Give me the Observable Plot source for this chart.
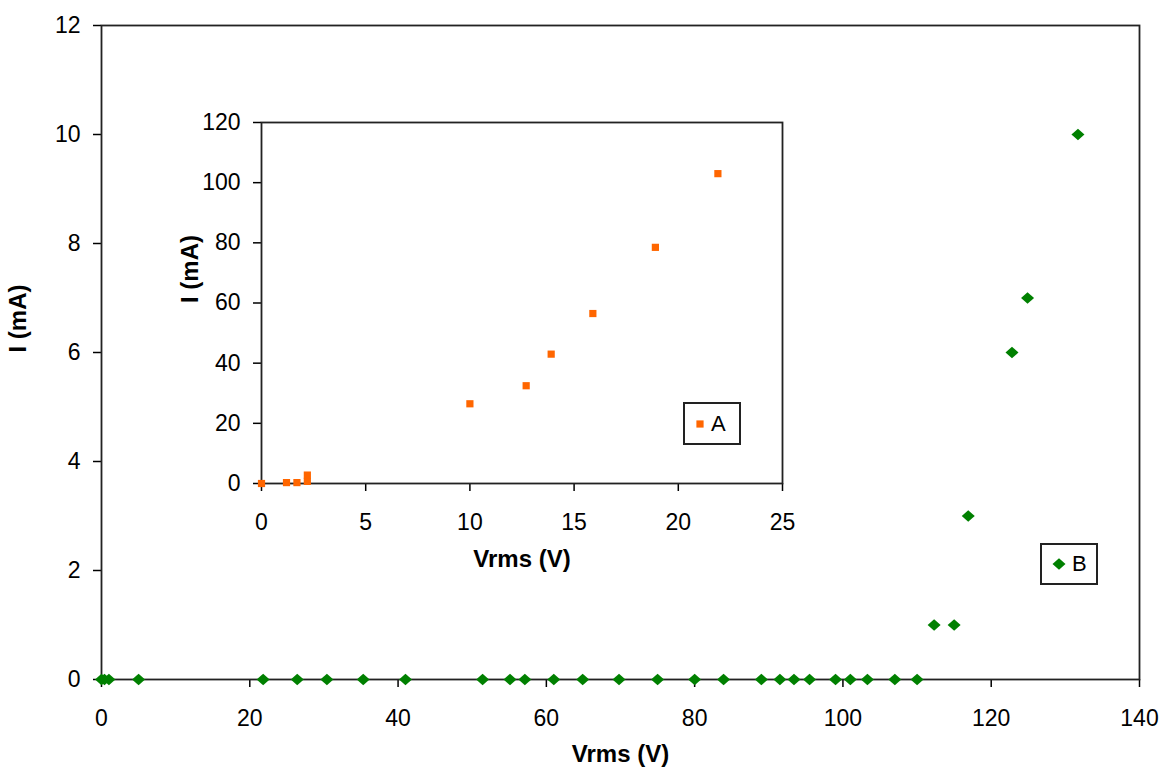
<!DOCTYPE html>
<html>
<head>
<meta charset="utf-8">
<script src="https://cdn.jsdelivr.net/npm/d3@7"></script>
<script src="https://cdn.jsdelivr.net/npm/@observablehq/plot@0.6"></script>
<style>
  body { margin: 0; background: #fff; font-family: "Liberation Sans", Arial, sans-serif; }
  #chart { position: relative; width: 1162px; height: 777px; }
  #chart svg.plot { position: absolute; left: 0; top: 0; }
  .legend { position: absolute; border: 2px solid #222; background: #fff; box-sizing: border-box;
            display: flex; align-items: center; font-size: 22px; color: #000; }
  .legend svg { margin-right: 6px; }
</style>
</head>
<body>
<div id="chart"></div>
<script>
// ---- Data ----
const seriesA_vrms = [0, 1.2, 1.7, 2.2, 2.2, 10, 12.7, 13.9, 15.9, 18.9, 21.9];
const seriesA_mA   = [0, 0.3, 0.3, 0.7, 2.8, 26.5, 32.5, 43, 56.5, 78.5, 103];

const seriesB_vrms = [0, 0.4, 1.0, 5, 21.8, 26.4, 30.4, 35.3, 41.0, 51.4, 55.1, 57.1, 61.0,
                      64.9, 69.8, 75, 80, 83.9, 89, 91.5, 93.4, 95.5, 99, 101, 103.3, 107, 110,
                      112.3, 115, 116.9, 122.8, 124.9, 131.7];
const seriesB_mA   = [0, 0, 0, 0, 0, 0, 0, 0, 0, 0, 0, 0, 0,
                      0, 0, 0, 0, 0, 0, 0, 0, 0, 0, 0, 0, 0, 0,
                      1, 1, 3, 6, 7, 10];

const mainXTicks = [0, 20, 40, 60, 80, 100, 120, 140];
const mainYTicks = [0, 2, 4, 6, 8, 10, 12];
const insetXTicks = [0, 5, 10, 15, 20, 25];
const insetYTicks = [0, 20, 40, 60, 80, 100, 120];

const seriesNames = ["A", "B"];
const colorA = "#ff6600";
const colorB = "#008000";

// ---- Build tables ----
const dataA = seriesA_vrms.map((v, k) => ({v, i: seriesA_mA[k]}));
const dataB = seriesB_vrms.map((v, k) => ({v, i: seriesB_mA[k]}));

// custom symbols
const diamond = {draw(ctx) { ctx.moveTo(-6.5, 0); ctx.lineTo(0, -5.8); ctx.lineTo(6.5, 0); ctx.lineTo(0, 5.8); ctx.closePath(); }};
const square = {draw(ctx) { ctx.rect(-3.6, -3.6, 7.2, 7.2); }};

const font = '"Liberation Sans", Arial, sans-serif';
const chart = document.getElementById("chart");

const main = Plot.plot({
  width: 1162, height: 777,
  marginLeft: 101, marginRight: 23, marginTop: 25, marginBottom: 98,
  style: {fontFamily: font, color: "#000", background: "transparent"},
  x: {domain: [0, 140]},
  y: {domain: [0, 12]},
  marks: [
    Plot.axisX({ticks: mainXTicks, tickSize: 8, tickPadding: 22, fontSize: 23, label: null, strokeWidth: 1.5}),
    Plot.axisY({ticks: mainYTicks, tickSize: 8, tickPadding: 13, fontSize: 23, label: null, strokeWidth: 1.5}),
    Plot.frame({stroke: "#222", strokeWidth: 1.8}),
    Plot.dot(dataB, {x: "v", y: "i", symbol: diamond, fill: colorB}),
    Plot.text(["Vrms (V)"], {text: d => d, frameAnchor: "bottom", dy: 82, fontSize: 24, fontWeight: "bold"}),
    Plot.text(["I (mA)"], {text: d => d, frameAnchor: "left", dx: -83, rotate: -90, fontSize: 24, fontWeight: "bold"})
  ]
});
main.classList.add("plot");
chart.appendChild(main);

const inset = Plot.plot({
  width: 1162, height: 777,
  marginLeft: 261, marginRight: 1162 - 782, marginTop: 122, marginBottom: 777 - 483,
  style: {fontFamily: font, color: "#000", background: "transparent"},
  x: {domain: [0, 25]},
  y: {domain: [0, 120]},
  marks: [
    Plot.axisX({ticks: insetXTicks, tickSize: 8, tickPadding: 22, fontSize: 23, label: null, strokeWidth: 1.5}),
    Plot.axisY({ticks: insetYTicks, tickSize: 8, tickPadding: 13, fontSize: 23, label: null, strokeWidth: 1.5}),
    Plot.frame({stroke: "#222", strokeWidth: 1.8}),
    Plot.dot(dataA, {x: "v", y: "i", symbol: square, fill: colorA}),
    Plot.text(["Vrms (V)"], {text: d => d, frameAnchor: "bottom", dy: 83, fontSize: 24, fontWeight: "bold"}),
    Plot.text(["I (mA)"], {text: d => d, frameAnchor: "left", dx: -71, rotate: -90, fontSize: 24, fontWeight: "bold"})
  ]
});
inset.classList.add("plot");
chart.appendChild(inset);

// ---- Legends (HTML) ----
function legend(name, left, top, w, h, symSvg) {
  const div = document.createElement("div");
  div.className = "legend";
  div.style.left = left + "px"; div.style.top = top + "px";
  div.style.width = w + "px"; div.style.height = h + "px";
  div.style.paddingLeft = "10px";
  div.innerHTML = symSvg + `<span>${name}</span>`;
  chart.appendChild(div);
}
legend(seriesNames[0], 683, 402, 58, 43,
  `<svg width="10" height="10"><rect x="1.4" y="1.4" width="7.2" height="7.2" fill="${colorA}"/></svg>`);
legend(seriesNames[1], 1040, 543, 58, 42,
  `<svg width="14" height="14"><path d="M0.5,7L7,1.2L13.5,7L7,12.8Z" fill="${colorB}"/></svg>`);
</script>
</body>
</html>
